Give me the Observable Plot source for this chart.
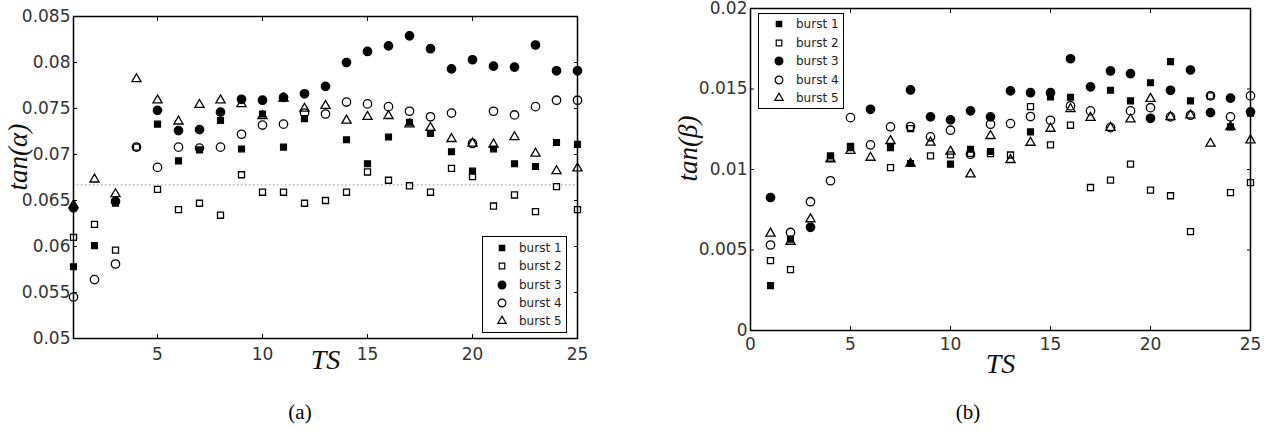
<!DOCTYPE html>
<html><head><meta charset="utf-8">
<script src="https://cdn.jsdelivr.net/npm/d3@7"></script>
<script src="https://cdn.jsdelivr.net/npm/@observablehq/plot@0.6"></script>
<style>
body{margin:0;background:#fff;}
#wrap{position:relative;width:1266px;height:436px;overflow:hidden;background:#fff;}
.panel{position:absolute;top:0;}
.legend{position:absolute;border:1.5px solid #000;background:#fff;box-sizing:border-box;}
.legend .row{position:absolute;font-family:"DejaVu Sans",sans-serif;font-size:12px;color:#222;line-height:12px;white-space:nowrap;}
.legend svg{position:absolute;overflow:visible;}
.caption{position:absolute;font-family:"Liberation Serif",serif;font-size:21px;transform:translate(-50%,-50%);}
</style></head><body><div id="wrap"></div>
<script>
// ---------- data ----------
const ts = [1,2,3,4,5,6,7,8,9,10,11,12,13,14,15,16,17,18,19,20,21,22,23,24,25];
const seriesNames = ["burst 1","burst 2","burst 3","burst 4","burst 5"];

// panel (a): tan(alpha)
const a_burst1 = [0.0578,0.0601,0.0647,null,0.0733,0.0693,0.0705,0.0737,0.0706,0.0744,0.0708,0.0739,null,0.0716,0.0690,0.0719,0.0735,0.0723,0.0703,0.0682,0.0706,0.0690,0.0687,0.0713,0.0711];
const a_burst2 = [0.0610,0.0624,0.0596,0.0708,0.0662,0.0640,0.0647,0.0634,0.0678,0.0659,0.0659,0.0647,0.0650,0.0659,0.0681,0.0672,0.0666,0.0659,0.0685,0.0676,0.0644,0.0656,0.0638,0.0665,0.0640];
const a_burst3 = [0.0642,null,0.0649,null,0.0748,0.0726,0.0727,0.0746,0.0760,0.0759,0.0762,0.0766,0.0774,0.0800,0.0812,0.0818,0.0829,0.0815,0.0793,0.0803,0.0796,0.0795,0.0819,0.0791,0.0791];
const a_burst4 = [0.0545,0.0564,0.0581,0.0708,0.0686,0.0708,0.0707,0.0708,0.0722,0.0732,0.0733,0.0745,0.0744,0.0757,0.0755,0.0752,0.0747,0.0741,0.0745,0.0712,0.0747,0.0743,0.0752,0.0759,0.0759];
const a_burst5 = [0.0645,0.0673,0.0657,0.0782,0.0759,0.0736,0.0754,0.0759,0.0755,0.0742,0.0761,0.0750,0.0753,0.0737,0.0741,0.0742,0.0733,0.0729,0.0717,0.0712,0.0711,0.0719,0.0701,0.0682,0.0685];
const a_reference = 0.0667;
const a_yTicks = [0.05,0.055,0.06,0.065,0.07,0.075,0.08,0.085];
const a_xTicks = [5,10,15,20,25];

// panel (b): tan(beta)
const b_burst1 = [0.00279,0.00568,null,0.01085,0.01136,null,0.01136,0.01037,null,0.01033,0.01126,0.01112,null,0.01234,0.01451,0.01449,null,0.01492,0.01426,0.01539,0.0167,0.01426,null,0.01265,0.0135];
const b_burst2 = [0.00434,0.00378,null,0.0107,0.01143,null,0.01012,0.01254,0.01085,0.01091,0.0110,0.01099,0.0109,0.0139,0.01153,0.01275,0.00888,0.00934,0.01033,0.00872,0.00837,0.00614,0.01457,0.00856,0.00919];
const b_burst3 = [0.00826,null,0.00641,null,null,0.01374,null,0.01494,0.01327,0.01308,0.01364,0.01327,0.01488,0.01477,0.01477,0.01688,0.01513,0.01612,0.01595,0.01318,0.01492,0.01618,0.01353,0.01443,0.01358];
const b_burst4 = [0.00531,0.00609,0.0080,0.0093,0.01322,0.01153,0.01265,0.01267,0.01203,0.01244,0.01095,0.01281,0.01285,0.01329,0.01306,0.01395,0.01364,0.0126,0.01364,0.01384,0.01327,0.01337,0.01457,0.01327,0.01457];
const b_burst5 = [0.00603,0.00552,0.00692,0.01064,0.01116,0.01074,0.01178,0.01037,0.01168,0.01112,0.00971,0.01209,0.0106,0.01167,0.01254,0.01376,0.01322,0.0126,0.01312,0.0144,0.01327,0.01337,0.01161,0.01265,0.01182];
const b_yTicks = [0,0.005,0.01,0.015,0.02];
const b_xTicks = [0,5,10,15,20,25];

// ---------- styles ----------
const markerStyles = [
  {symbol:"square",   fill:"black", r:3.3},
  {symbol:"square",   fill:"none",  r:3.4},
  {symbol:"circle",   fill:"black", r:4.2},
  {symbol:"circle",   fill:"none",  r:4.2},
  {symbol:"triangle", fill:"none",  r:3.4}
];
const fmt = d => String(+d.toFixed(4));
const blank = () => "";

function panel({series, xDomain, yDomain, xTicks, yTicks, ylabel, reference, width, height, margins, xLabelPad, yLabelDx, yLabelDy, titleDy}) {
  const marks = [];
  if (reference != null) {
    marks.push(Plot.ruleY([reference], {stroke:"#aaa", strokeWidth:1.2, strokeDasharray:"1.5,2.5"}));
  }
  series.forEach((vals, k) => {
    const st = markerStyles[k];
    const rows = ts.map((t, i) => ({t, v: vals[i]}));
    marks.push(Plot.dot(rows, {x:"t", y:"v", symbol: () => st.symbol, r: st.r,
      fill: st.fill, stroke:"black", strokeWidth:1.3}));
  });
  marks.push(
    Plot.axisX({anchor:"bottom", ticks:xTicks, tickSize:-4, tickPadding:xLabelPad, tickFormat:fmt, label:null, fill:"#333"}),
    Plot.axisX({anchor:"top", ticks:xTicks, tickSize:-4, tickFormat:blank, label:null}),
    Plot.axisY({anchor:"left", ticks:yTicks, tickSize:-4, tickPadding:7, tickFormat:fmt, label:null, fill:"#333"}),
    Plot.axisY({anchor:"right", ticks:yTicks, tickSize:-4, tickFormat:blank, label:null}),
    Plot.frame({stroke:"black", strokeWidth:1.5}),
    Plot.text(["TS"], {text: d => d, frameAnchor:"bottom", dy: titleDy, lineAnchor:"middle",
      fontFamily:"Liberation Serif", fontStyle:"italic", fontSize:28, fill:"#111"}),
    Plot.text([ylabel], {text: d => d, frameAnchor:"left", dx: yLabelDx, dy: yLabelDy, rotate:-90, lineAnchor:"middle",
      fontFamily:"Liberation Serif", fontStyle:"italic", fontSize:27, fill:"#111"})
  );
  return Plot.plot({
    width, height, ...margins,
    x:{domain:xDomain}, y:{domain:yDomain},
    style:{fontFamily:"DejaVu Sans", fontSize:"17px", background:"white", overflow:"visible"},
    marks
  });
}

const wrap = document.getElementById("wrap");

const pa = panel({
  series:[a_burst1,a_burst2,a_burst3,a_burst4,a_burst5],
  xDomain:[1,25], yDomain:[0.05,0.085], xTicks:a_xTicks, yTicks:a_yTicks,
  ylabel:"tan(α)", reference:a_reference,
  width:600, height:380,
  margins:{marginLeft:73, marginRight:23, marginTop:16, marginBottom:42},
  xLabelPad:13, yLabelDx:-55, yLabelDy:13, titleDy:22
});
pa.classList.add("panel"); pa.style.left = "0px";
wrap.appendChild(pa);

const pb = panel({
  series:[b_burst1,b_burst2,b_burst3,b_burst4,b_burst5],
  xDomain:[0,25], yDomain:[0,0.02], xTicks:b_xTicks, yTicks:b_yTicks,
  ylabel:"tan(β)", reference:null,
  width:606, height:380,
  margins:{marginLeft:90, marginRight:16, marginTop:8, marginBottom:50},
  xLabelPad:11, yLabelDx:-62, yLabelDy:12, titleDy:34
});
pb.classList.add("panel"); pb.style.left = "660px";
wrap.appendChild(pb);

// ---------- legends ----------
function legend(left, top, w, h, symX, textX, row0, rowStep) {
  const div = document.createElement("div");
  div.className = "legend";
  Object.assign(div.style, {left:left+"px", top:top+"px", width:w+"px", height:h+"px"});
  seriesNames.forEach((name, k) => {
    const st = markerStyles[k];
    const cy = row0 + k*rowStep;
    const svg = d3.create("svg").attr("width", 1).attr("height", 1)
      .style("left", symX+"px").style("top", cy+"px");
    const sym = {square:d3.symbolSquare, circle:d3.symbolCircle, triangle:d3.symbolTriangle}[st.symbol];
    svg.append("path").attr("d", d3.symbol(sym, Math.PI*st.r*st.r*0.85)())
      .attr("fill", st.fill).attr("stroke","black").attr("stroke-width",1.2);
    div.appendChild(svg.node());
    const t = document.createElement("div");
    t.className = "row"; t.textContent = name;
    Object.assign(t.style, {left:textX+"px", top:(cy-6)+"px"});
    div.appendChild(t);
  });
  wrap.appendChild(div);
}
legend(482, 236, 85, 97, 19, 36, 11, 18.3);
legend(758, 13, 86, 96, 20, 37, 10, 18.6);

// ---------- captions ----------
[["(a)", 300], ["(b)", 968]].forEach(([txt, x]) => {
  const c = document.createElement("div");
  c.className = "caption"; c.textContent = txt;
  Object.assign(c.style, {left:x+"px", top:"412px"});
  wrap.appendChild(c);
});
</script></body></html>
